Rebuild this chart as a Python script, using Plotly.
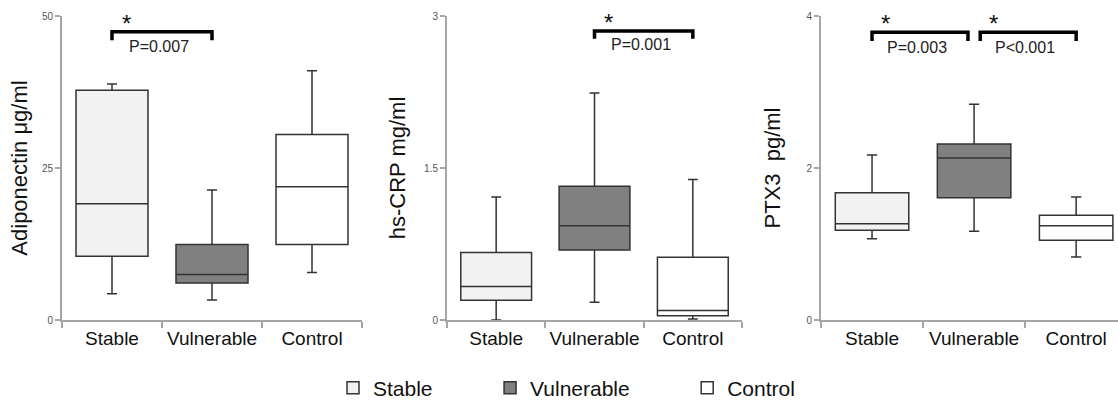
import plotly.graph_objects as go

W, H = 1118, 400
categories = ["Stable", "Vulnerable", "Control"]
groups = ["Stable", "Vulnerable", "Control"]
legend_names = ["Stable" + "\u00a0" * 9, "Vulnerable" + "\u00a0" * 9, "Control"]
fills = {"Stable": "#f2f2f2", "Vulnerable": "#808080", "Control": "#ffffff"}

# Adiponectin (μg/ml): lower whisker, q1, median, q3, upper whisker
adipo_low = [4.3, 3.3, 7.8]
adipo_q1 = [10.5, 6.1, 12.4]
adipo_med = [19.1, 7.5, 21.9]
adipo_q3 = [37.8, 12.4, 30.5]
adipo_high = [38.8, 21.4, 41.0]

# hs-CRP (mg/ml)
crp_low = [0.0, 0.175, 0.01]
crp_q1 = [0.195, 0.69, 0.043]
crp_med = [0.33, 0.93, 0.093]
crp_q3 = [0.665, 1.32, 0.62]
crp_high = [1.215, 2.24, 1.386]

# PTX3 (pg/ml)
ptx_low = [1.07, 1.167, 0.83]
ptx_q1 = [1.18, 1.61, 1.05]
ptx_med = [1.267, 2.13, 1.24]
ptx_q3 = [1.675, 2.316, 1.377]
ptx_high = [2.17, 2.84, 1.62]

panels = [
    dict(title="Adiponectin μg/ml", low=adipo_low, q1=adipo_q1, med=adipo_med, q3=adipo_q3, high=adipo_high,
         yrange=[0, 50], ticks=[0, 25, 50], ticktext=["0", "25", "50"],
         dom=[62, 362], xr=[-0.5, 2.5],
         brackets=[(0, 1, 47.4, 46.0, "P=0.007")], standoff=8),
    dict(title="hs-CRP mg/ml", low=crp_low, q1=crp_q1, med=crp_med, q3=crp_q3, high=crp_high,
         yrange=[0, 3], ticks=[0, 1.5, 3], ticktext=["0", "1.5", "3"],
         dom=[447, 742], xr=[-0.5, 2.5],
         brackets=[(1, 2, 2.853, 2.775, "P=0.001")], standoff=12),
    dict(title="PTX3  pg/ml", low=ptx_low, q1=ptx_q1, med=ptx_med, q3=ptx_q3, high=ptx_high,
         yrange=[0, 4], ticks=[0, 2, 4], ticktext=["0", "2", "4"],
         dom=[821, 1118], xr=[-0.5, 2.41],
         brackets=[(0, 0.94, 3.785, 3.67, "P=0.003"), (1.06, 2, 3.785, 3.67, "P<0.001")], standoff=20),
]

fig = go.Figure()
ydom = [1 - 320 / H, 1 - 16 / H]
line_col = "#333333"
axis_col = "#a6a6a6"

for pi, p in enumerate(panels):
    xa = "x" if pi == 0 else f"x{pi+1}"
    ya = "y" if pi == 0 else f"y{pi+1}"
    for gi, g in enumerate(groups):
        fig.add_trace(go.Box(
            x=[categories[gi]], q1=[p["q1"][gi]], median=[p["med"][gi]], q3=[p["q3"][gi]],
            lowerfence=[p["low"][gi]], upperfence=[p["high"][gi]],
            name=legend_names[gi], legendgroup=g, showlegend=(pi == 0),
            fillcolor=fills[g], line=dict(color=line_col, width=1.5),
            width=0.72, whiskerwidth=0.14, boxpoints=False, hoverinfo="skip",
            xaxis=xa, yaxis=ya,
        ))
    xkey = "xaxis" if pi == 0 else f"xaxis{pi+1}"
    ykey = "yaxis" if pi == 0 else f"yaxis{pi+1}"
    fig.update_layout(**{
        xkey: dict(domain=[p["dom"][0] / W, min(p["dom"][1] / W, 1.0)], anchor=ya,
                   type="category", categoryorder="array", categoryarray=categories,
                   range=p["xr"], showline=True, linecolor=axis_col, linewidth=2,
                   ticks="outside", tickson="boundaries", ticklen=6, tickcolor=axis_col, tickwidth=2,
                   tickangle=0,
                   tickfont=dict(family="Liberation Sans, Arial", size=19, color="#111111"),
                   showgrid=False, zeroline=False, fixedrange=True),
        ykey: dict(domain=ydom, anchor=xa, range=p["yrange"], tickvals=p["ticks"], ticktext=p["ticktext"],
                   showline=True, linecolor=axis_col, linewidth=2, ticks="outside", ticklen=5,
                   tickcolor=axis_col, tickwidth=2,
                   tickfont=dict(family="Liberation Sans, Arial", size=10, color="#555555"),
                   title=dict(text=p["title"], standoff=p["standoff"],
                              font=dict(family="Liberation Sans, Arial", size=22, color="#111111")),
                   showgrid=False, zeroline=False, fixedrange=True),
    })
    for (x0, x1, ytop, ybot, label) in p["brackets"]:
        fig.add_shape(type="path", xref=xa, yref=ya,
                      path=f"M {x0},{ybot} L {x0},{ytop} L {x1},{ytop} L {x1},{ybot}",
                      line=dict(color="#000000", width=3.5))
        fig.add_annotation(xref=xa, yref=ya, x=x0 + 0.14 * (x1 - x0), y=ytop, text="*",
                           showarrow=False, yanchor="bottom", yshift=-7,
                           font=dict(family="Liberation Sans, Arial", size=24, color="#111111"))
        fig.add_annotation(xref=xa, yref=ya, x=x0 + 0.47 * (x1 - x0), y=ybot, text=label,
                           showarrow=False, yanchor="middle", yshift=-6,
                           font=dict(family="Liberation Sans, Arial", size=16, color="#222222"))

fig.update_layout(
    width=W, height=H, margin=dict(l=0, r=0, t=0, b=0, autoexpand=False),
    paper_bgcolor="white", plot_bgcolor="white",
    boxmode="overlay",
    legend=dict(orientation="h", x=333 / W, xanchor="left", y=0.03, yanchor="middle",
                font=dict(family="Liberation Sans, Arial", size=21, color="#111111"),
                itemwidth=30, traceorder="normal"),
)

fig.write_html("out.html")
